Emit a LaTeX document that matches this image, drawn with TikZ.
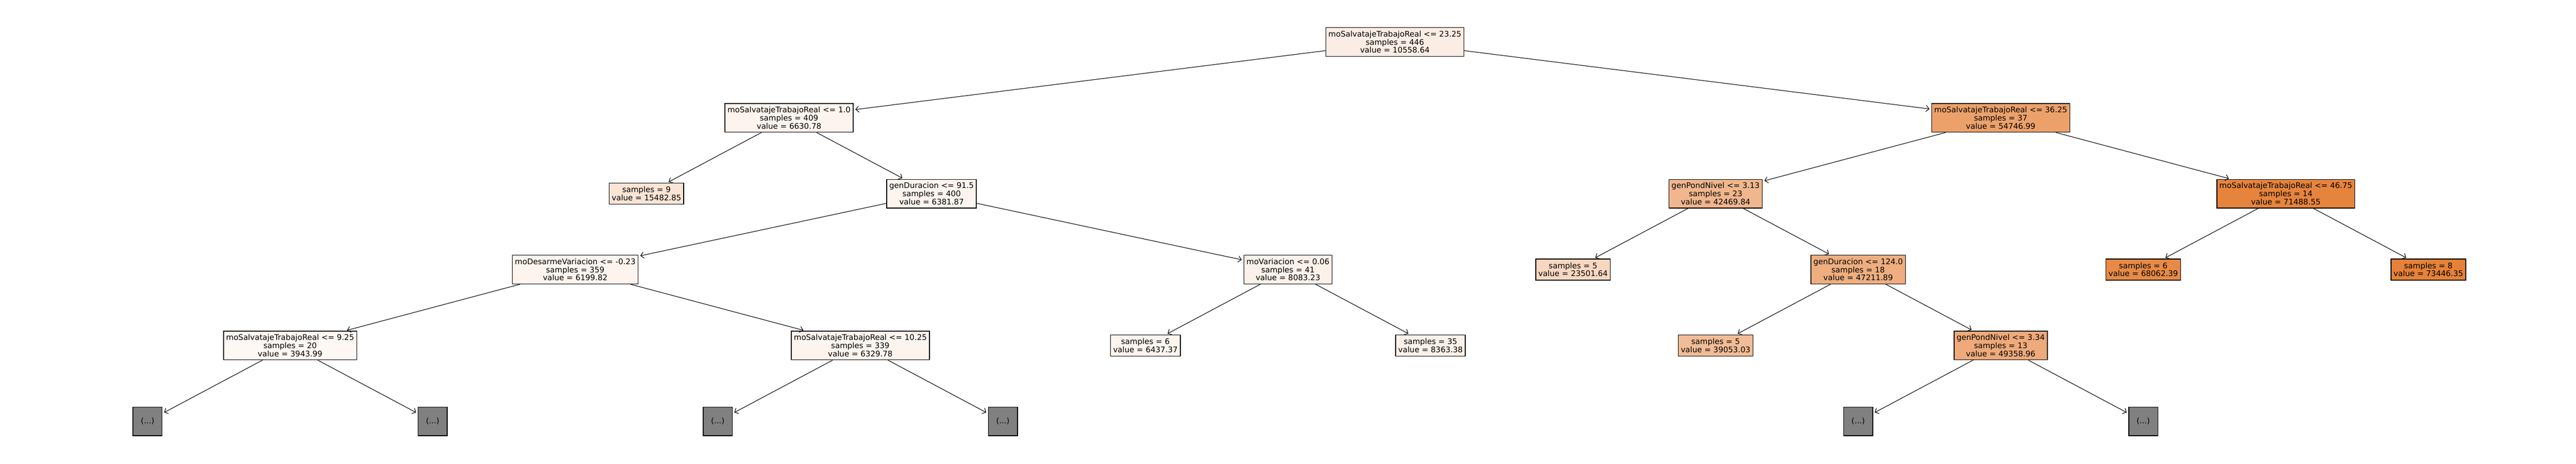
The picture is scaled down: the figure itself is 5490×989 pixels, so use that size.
\documentclass[tikz,border=0pt]{standalone}
\usepackage{fontspec}
\setmainfont{DejaVu Sans}
\usetikzlibrary{arrows.meta}
\definecolor{treeor}{RGB}{229,129,57}
\definecolor{hidgray}{RGB}{128,128,128}
\begin{document}
\begin{tikzpicture}[x=0.5bp,y=-0.5bp,
  tn/.style={draw=black, line width=0.8bp, rectangle, align=center, inner xsep=2.7bp, inner ysep=0pt,
    font=\fontsize{8.25bp}{8.65bp}\selectfont, text=black},
  splitn/.style={tn, minimum height=30.5bp},
  leafn/.style={tn, minimum height=22.5bp},
  hid/.style={tn, fill=hidgray, minimum height=30.5bp, minimum width=31bp},
  arr/.style={-{Straight Barb[length=3.3bp,width=6.6bp]}, line width=0.6bp, shorten >=2bp}
]
\useasboundingbox[fill=white] (0,0) rectangle (5490,989);

% depth 0
\node[splitn, fill=treeor!14.38!white] (root) at (2972.75,89.5) {moSalvatajeTrabajoReal <= 23.25\\samples = 446\\value = 10558.64};
% depth 1
\node[splitn, fill=treeor!9.03!white] (a) at (1681.6,251.25) {moSalvatajeTrabajoReal <= 1.0\\samples = 409\\value = 6630.78};
\node[splitn, fill=treeor!74.54!white] (b) at (4263.9,251.25) {moSalvatajeTrabajoReal <= 36.25\\samples = 37\\value = 54746.99};
% depth 2
\node[leafn, fill=treeor!21.08!white] (aa) at (1377.8,413) {samples = 9\\value = 15482.85};
\node[splitn, fill=treeor!8.69!white] (ab) at (1985.4,413) {genDuracion <= 91.5\\samples = 400\\value = 6381.87};
\node[splitn, fill=treeor!57.82!white] (ba) at (3656.3,413) {genPondNivel <= 3.13\\samples = 23\\value = 42469.84};
\node[splitn, fill=treeor!97.33!white] (bb) at (4871.5,413) {moSalvatajeTrabajoReal <= 46.75\\samples = 14\\value = 71488.55};
% depth 3
\node[splitn, fill=treeor!8.44!white] (aba) at (1225.9,574.75) {moDesarmeVariacion <= -0.23\\samples = 359\\value = 6199.82};
\node[splitn, fill=treeor!11.01!white] (abb) at (2744.9,574.75) {moVariacion <= 0.06\\samples = 41\\value = 8083.23};
\node[leafn, fill=treeor!32.00!white] (baa) at (3352.5,574.75) {samples = 5\\value = 23501.64};
\node[splitn, fill=treeor!64.28!white] (bab) at (3960.1,574.75) {genDuracion <= 124.0\\samples = 18\\value = 47211.89};
\node[leafn, fill=treeor!92.67!white] (bba) at (4567.7,574.75) {samples = 6\\value = 68062.39};
\node[leafn, fill=treeor] (bbb) at (5175.3,574.75) {samples = 8\\value = 73446.35};
% depth 4
\node[splitn, fill=treeor!5.37!white] (abaa) at (618.3,736.5) {moSalvatajeTrabajoReal <= 9.25\\samples = 20\\value = 3943.99};
\node[splitn, fill=treeor!8.62!white] (abab) at (1833.5,736.5) {moSalvatajeTrabajoReal <= 10.25\\samples = 339\\value = 6329.78};
\node[leafn, fill=treeor!8.76!white] (abba) at (2441.1,736.5) {samples = 6\\value = 6437.37};
\node[leafn, fill=treeor!11.39!white] (abbb) at (3048.7,736.5) {samples = 35\\value = 8363.38};
\node[leafn, fill=treeor!53.17!white] (baba) at (3656.3,736.5) {samples = 5\\value = 39053.03};
\node[splitn, fill=treeor!67.20!white] (babb) at (4263.9,736.5) {genPondNivel <= 3.34\\samples = 13\\value = 49358.96};
% depth 5 (hidden)
\node[hid] (h1) at (314.5,898.25) {(...)};
\node[hid] (h2) at (922.1,898.25) {(...)};
\node[hid] (h3) at (1529.7,898.25) {(...)};
\node[hid] (h4) at (2137.3,898.25) {(...)};
\node[hid] (h5) at (3960.1,898.25) {(...)};
\node[hid] (h6) at (4567.7,898.25) {(...)};

% edges
\draw[arr] (root) -- (a);
\draw[arr] (root) -- (b);
\draw[arr] (a) -- (aa);
\draw[arr] (a) -- (ab);
\draw[arr] (b) -- (ba);
\draw[arr] (b) -- (bb);
\draw[arr] (ab) -- (aba);
\draw[arr] (ab) -- (abb);
\draw[arr] (ba) -- (baa);
\draw[arr] (ba) -- (bab);
\draw[arr] (bb) -- (bba);
\draw[arr] (bb) -- (bbb);
\draw[arr] (aba) -- (abaa);
\draw[arr] (aba) -- (abab);
\draw[arr] (abb) -- (abba);
\draw[arr] (abb) -- (abbb);
\draw[arr] (bab) -- (baba);
\draw[arr] (bab) -- (babb);
\draw[arr] (abaa) -- (h1);
\draw[arr] (abaa) -- (h2);
\draw[arr] (abab) -- (h3);
\draw[arr] (abab) -- (h4);
\draw[arr] (babb) -- (h5);
\draw[arr] (babb) -- (h6);
\end{tikzpicture}
\end{document}
